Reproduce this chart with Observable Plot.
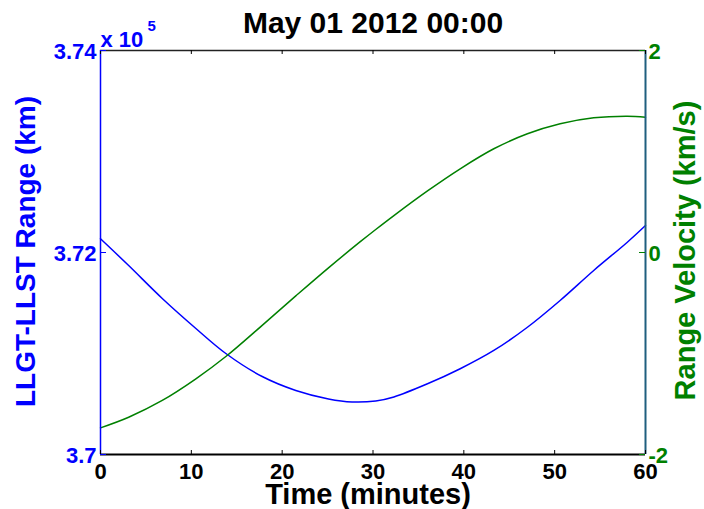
<!DOCTYPE html>
<html><head><meta charset="utf-8">
<script src="https://cdn.jsdelivr.net/npm/d3@7"></script>
<script src="https://cdn.jsdelivr.net/npm/@observablehq/plot@0.6"></script>
<style>body{margin:0;background:#fff;}</style>
</head><body><div id="chart"></div>
<script>
// Range (km) vs time (minutes)
const rangeTime = [0, 3.1, 6.8, 10.5, 13.8, 17.8, 21.5, 25.1, 27.7, 30.3, 32.3, 36, 39.6, 43.3, 47, 50.6, 54.3, 58, 60];
const rangeKm = [372136, 371871, 371545, 371248, 371000, 370772, 370634, 370550, 370520, 370530, 370570, 370700, 370849, 371030, 371260, 371525, 371822, 372102, 372267];
// Range velocity (km/s) vs time (minutes)
const velTime = [0, 3.1, 6.8, 10.5, 13.8, 17.8, 21.5, 25.1, 28.6, 30.3, 32.3, 36, 39.6, 43.3, 47, 50.6, 54.3, 58, 60];
const velKms = [-1.736, -1.631, -1.465, -1.251, -1.030, -0.721, -0.43, -0.152, 0.107, 0.228, 0.366, 0.61, 0.829, 1.027, 1.175, 1.274, 1.333, 1.349, 1.339];

const xTicks = [0, 10, 20, 30, 40, 50, 60];
const xTickLabels = ["0", "10", "20", "30", "40", "50", "60"];
const leftTicks = [3.70, 3.72, 3.74];
const leftTickLabels = ["3.7", "3.72", "3.74"];
const rightTicks = [-2, 0, 2];
const rightTickLabels = ["-2", "0", "2"];
const titleText = "May 01 2012 00:00";
const xLabel = "Time (minutes)";
const yLeftLabel = "LLGT-LLST Range (km)";
const yRightLabel = "Range Velocity (km/s)";
const exponentBase = "x 10";
const exponent = "5";

const BLUE = "#0000ff", GREEN = "#008000", TEAL = "#1f5f7f";
const FONT = "'Liberation Sans', Arial, Helvetica, sans-serif";

// map right-axis values (-2..2) onto the left scale (3.70..3.74)
const toLeft = v => 3.70 + (v + 2) * 0.01;
const rangeData = rangeTime.map((t, i) => ({t, y: rangeKm[i] / 1e5}));
const velData = velTime.map((t, i) => ({t, y: toLeft(velKms[i])}));

const common = {fontFamily: FONT, fontWeight: "bold"};

const plot = Plot.plot({
  width: 704, height: 509,
  marginLeft: 100, marginRight: 59, marginTop: 50, marginBottom: 55,
  style: {fontFamily: FONT, background: "#fff", overflow: "visible"},
  x: {domain: [0, 60], axis: null},
  y: {domain: [3.70, 3.74], axis: null},
  marks: [
    Plot.line(rangeData, {x: "t", y: "y", stroke: BLUE, strokeWidth: 1.5, curve: "catmull-rom"}),
    Plot.line(velData, {x: "t", y: "y", stroke: GREEN, strokeWidth: 1.5, curve: "catmull-rom"}),
    Plot.ruleY([3.70], {stroke: "black", strokeWidth: 2}),
    Plot.ruleY([3.74], {stroke: "#222", strokeWidth: 1.5}),
    Plot.ruleX([0], {stroke: BLUE, strokeWidth: 1.5}),
    Plot.ruleX([60], {stroke: TEAL, strokeWidth: 2}),
    Plot.tickX(xTicks, {x: d => d, insetTop: 400, stroke: "black"}),
    Plot.tickX(xTicks, {x: d => d, insetBottom: 400, stroke: "black"}),
    Plot.tickY(leftTicks, {y: d => d, insetRight: 539, stroke: BLUE}),
    Plot.tickY(rightTicks.map(toLeft), {y: d => d, insetLeft: 539, stroke: GREEN}),
    Plot.text(xTicks, {x: d => d, text: (d, i) => xTickLabels[i], frameAnchor: "bottom", textAnchor: "middle", dy: 9, lineAnchor: "top", fontSize: 22, fill: "black", ...common}),
    Plot.text(leftTicks, {y: d => d, text: (d, i) => leftTickLabels[i], frameAnchor: "left", textAnchor: "end", lineAnchor: "middle", dx: -4, dy: 1.5, fontSize: 22, fill: BLUE, ...common}),
    Plot.text(rightTicks.map(toLeft), {y: d => d, text: (d, i) => rightTickLabels[i], frameAnchor: "right", textAnchor: "start", lineAnchor: "middle", dx: 3, dy: 1.5, fontSize: 22, fill: GREEN, ...common}),
    Plot.text([exponentBase], {text: d => d, frameAnchor: "top-left", textAnchor: "start", lineAnchor: "middle", dx: 0, dy: -11, fontSize: 22, fill: BLUE, ...common}),
    Plot.text([exponent], {text: d => d, frameAnchor: "top-left", textAnchor: "start", lineAnchor: "middle", dx: 47, dy: -24, fontSize: 15, fill: BLUE, ...common}),
    Plot.text([titleText], {text: d => d, frameAnchor: "top", textAnchor: "middle", lineAnchor: "middle", dy: -27, fontSize: 30, fill: "black", ...common}),
    Plot.text([xLabel], {text: d => d, frameAnchor: "bottom", textAnchor: "middle", lineAnchor: "middle", dx: -5, dy: 40, fontSize: 29, fill: "black", ...common}),
    Plot.text([yLeftLabel], {text: d => d, frameAnchor: "left", textAnchor: "middle", lineAnchor: "middle", dx: -74, dy: -1, rotate: -90, fontSize: 28, fill: BLUE, ...common}),
    Plot.text([yRightLabel], {text: d => d, frameAnchor: "right", textAnchor: "middle", lineAnchor: "middle", dx: 40, dy: -2, rotate: -90, fontSize: 29, fill: GREEN, ...common})
  ]
});
document.getElementById("chart").appendChild(plot);
</script>
</body></html>
